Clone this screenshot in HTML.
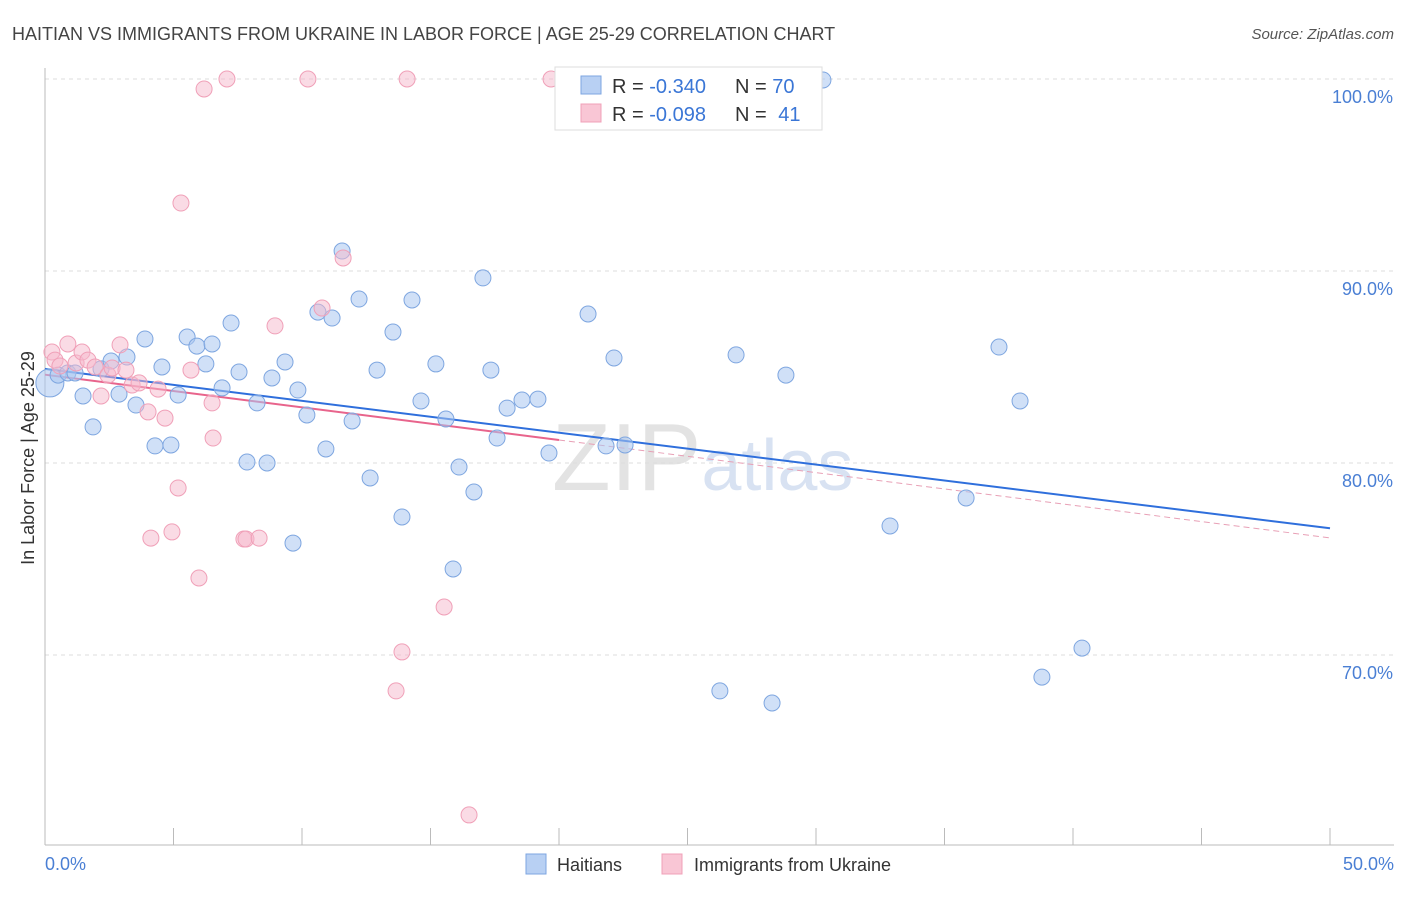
<!DOCTYPE html>
<html><head><meta charset="utf-8"><style>
body{margin:0;background:#fff;font-family:"Liberation Sans",sans-serif}
svg text{font-family:"Liberation Sans",sans-serif}
</style></head><body>
<svg id="chart" width="1406" height="892" xmlns="http://www.w3.org/2000/svg">
<text x="12" y="40" font-size="18" fill="#444">HAITIAN VS IMMIGRANTS FROM UKRAINE IN LABOR FORCE | AGE 25-29 CORRELATION CHART</text>
<text x="1394" y="39" font-size="15" fill="#555" text-anchor="end" font-style="italic">Source: ZipAtlas.com</text>
<text x="552" y="490" font-size="96" fill="#ddd" font-family="Liberation Serif" opacity="0.8">ZIP<tspan fill="#cfdcf0" font-family="Liberation Sans" font-size="72">atlas</tspan></text>
<g id="grid"></g><g id="axes"></g><g id="trend"></g><g id="pts"></g>
<text transform="translate(34,458) rotate(-90)" font-size="18" fill="#333" text-anchor="middle">In Labor Force | Age 25-29</text>
<text x="45" y="870" font-size="18" fill="#4a7fd4">0.0%</text>
<text x="1394" y="870" font-size="18" fill="#4a7fd4" text-anchor="end">50.0%</text>
<g>
<rect x="555" y="67" width="267" height="63" fill="#fff" stroke="#ddd"/>
<rect x="581" y="76" width="20" height="18" fill="#b8d0f3" stroke="#7ea6e0"/>
<rect x="581" y="104" width="20" height="18" fill="#f9c6d5" stroke="#f0a0b8"/>
<text x="612" y="93" font-size="20" fill="#333">R = <tspan fill="#3a76d6">-0.340</tspan></text>
<text x="735" y="93" font-size="20" fill="#333">N = <tspan fill="#3a76d6">70</tspan></text>
<text x="612" y="121" font-size="20" fill="#333">R = <tspan fill="#3a76d6">-0.098</tspan></text>
<text x="735" y="121" font-size="20" fill="#333">N = <tspan fill="#3a76d6" dx="6">41</tspan></text>
</g>
<g>
<rect x="526" y="854" width="20" height="20" fill="#b8d0f3" stroke="#7ea6e0"/>
<text x="557" y="871" font-size="18" fill="#333">Haitians</text>
<rect x="662" y="854" width="20" height="20" fill="#f9c6d5" stroke="#f0a0b8"/>
<text x="694" y="871" font-size="18" fill="#333">Immigrants from Ukraine</text>
</g>
</svg>
<script>
const yTicks=[100,90,80,70];
const yTickLabels=["100.0%","90.0%","80.0%","70.0%"];
const xTicks=[0,5,10,15,20,25,30,35,40,45,50];
const blueX=[0.19,0.51,0.89,1.17,1.48,1.87,2.18,2.57,2.88,3.19,3.54,3.89,4.28,4.55,4.90,5.18,5.53,5.91,6.26,6.50,6.89,7.24,7.55,7.86,8.25,8.64,8.83,9.34,9.65,9.84,10.19,10.62,10.93,11.17,11.56,11.95,12.22,12.65,12.92,13.54,13.89,14.28,14.63,15.21,15.60,15.88,16.11,16.69,17.04,17.35,17.59,17.98,18.56,19.18,19.61,21.13,21.83,22.14,22.57,26.26,26.89,28.29,28.83,30.27,32.88,35.84,37.12,37.94,38.79,40.35];
const blueY=[84.17,84.58,84.69,84.69,83.49,81.88,84.90,85.31,83.59,85.52,83.02,86.46,80.89,85.0,80.94,83.54,86.56,86.09,85.16,86.20,83.91,87.29,84.74,80.05,83.13,80.0,84.43,85.26,75.83,83.80,82.50,87.86,80.73,87.55,91.04,82.19,88.54,79.22,84.84,86.82,77.19,88.49,83.23,85.16,82.29,74.48,79.79,78.49,89.64,84.84,81.30,82.86,83.28,83.33,80.52,87.76,80.89,85.47,80.94,68.13,85.63,67.50,84.58,99.95,76.72,78.18,86.04,83.23,68.85,70.36];
const pinkX=[0.27,0.39,0.58,0.89,1.21,1.44,1.67,1.95,2.18,2.45,2.61,2.92,3.15,3.39,3.66,4.01,4.12,4.40,4.67,4.94,5.18,5.29,5.68,5.99,6.19,6.50,6.54,7.08,7.74,7.82,8.33,8.95,10.23,10.78,11.60,13.66,13.89,14.09,15.53,16.50,19.69];
const pinkY=[85.78,85.36,85.05,86.20,85.21,85.78,85.36,85.0,83.49,84.58,84.95,86.15,84.84,84.06,84.17,82.66,76.09,83.85,82.34,76.41,78.70,93.54,84.84,74.01,99.48,83.13,81.30,100,76.04,76.04,76.09,87.14,100,88.07,90.68,68.13,70.16,100,72.50,61.67,100];
const blueTrend=[84.9,76.6];
const pinkTrend=[84.6,76.1];
const NS="http://www.w3.org/2000/svg";
const X=v=>45+v*25.7, Y=v=>79+(100-v)*19.2;
function mk(t,a,p){const e=document.createElementNS(NS,t);for(const k in a)e.setAttribute(k,a[k]);p.appendChild(e);return e;}
const grid=document.getElementById('grid'),axes=document.getElementById('axes'),trend=document.getElementById('trend'),pts=document.getElementById('pts');
yTicks.forEach((v,i)=>{
const l=mk('line',{x1:45,x2:1394,y1:Y(v),y2:Y(v),stroke:'#ddd','stroke-dasharray':'4,4'},grid);


const t=mk('text',{x:1393,y:Y(v)+24,'font-size':18,fill:'#4a7fd4','text-anchor':'end'},grid);
t.textContent=yTickLabels[i];


});
const ax=mk('line',{x1:45,x2:1394,y1:845,y2:845,stroke:'#bbb'},axes);


const ay=mk('line',{x1:45,x2:45,y1:68,y2:845,stroke:'#bbb'},axes);


xTicks.forEach(v=>{
const t=mk('line',{x1:X(v),x2:X(v),y1:828,y2:845,stroke:'#bbb'},axes);


});
const bt=mk('line',{x1:X(0),y1:Y(blueTrend[0]),x2:X(50),y2:Y(blueTrend[1]),stroke:'#2f6fdc','stroke-width':2},trend);


const pv=x=>pinkTrend[0]+(pinkTrend[1]-pinkTrend[0])*x/50;
const pt=mk('line',{x1:X(0),y1:Y(pv(0)),x2:X(20),y2:Y(pv(20)),stroke:'#e8648c','stroke-width':2},trend);


const pd=mk('line',{x1:X(20),y1:Y(pv(20)),x2:X(50),y2:Y(pv(50)),stroke:'#e8a0b6','stroke-width':1,'stroke-dasharray':'6,4'},trend);


blueX.forEach((x,i)=>{
const c=mk('circle',{cx:X(x),cy:Y(blueY[i]),r:i===0?14:8,fill:'rgba(170,198,240,0.55)',stroke:'#7ea6e0','stroke-width':1},pts);


});
pinkX.forEach((x,i)=>{
const c=mk('circle',{cx:X(x),cy:Y(pinkY[i]),r:8,fill:'rgba(246,184,204,0.5)',stroke:'#f0a0b8','stroke-width':1},pts);


});
</script>
</body></html>
